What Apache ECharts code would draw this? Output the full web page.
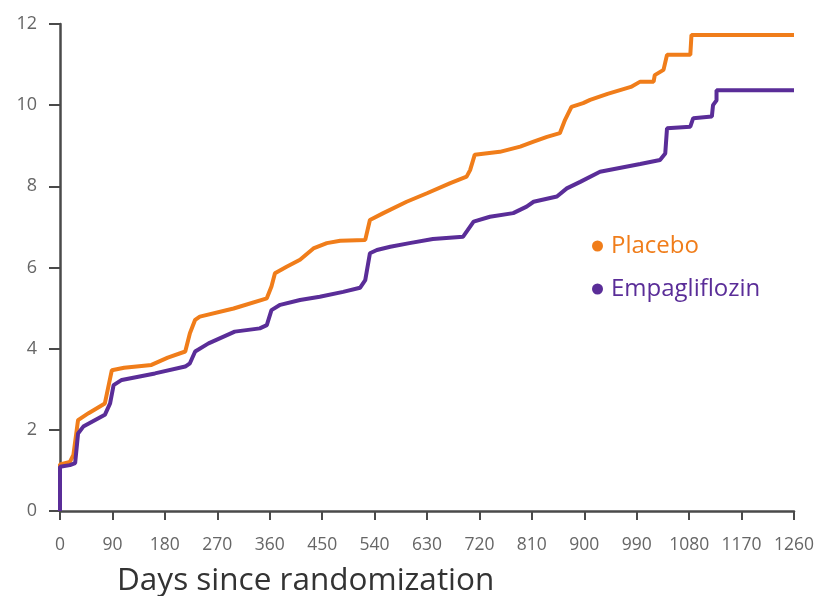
<!DOCTYPE html>
<html>
<head>
<meta charset="utf-8">
<script src="https://cdn.jsdelivr.net/npm/echarts@6/dist/echarts.min.js"></script>
<style>
	html, body { margin: 0; padding: 0; background: #fff; }
	#main { width: 821px; height: 596px; }
</style>
</head>
<body>
<div id="main"></div>
<script>
var xTicks = [0, 90, 180, 270, 360, 450, 540, 630, 720, 810, 900, 990, 1080, 1170, 1260];
var yTicks = [0, 2, 4, 6, 8, 10, 12];
var seriesNames = ['Placebo', 'Empagliflozin'];

// [day, cumulative incidence %]
var placeboCurve = [
	[0, 0], [0, 1.15], [3, 1.18], [17, 1.21], [23, 1.38], [31, 2.24], [49, 2.41], [77, 2.65],
	[89, 3.47], [110, 3.53], [157, 3.60], [185, 3.78], [215, 3.93], [223, 4.38], [232, 4.71],
	[240, 4.79], [298, 4.99], [355, 5.24], [363, 5.53], [369, 5.86], [389, 6.02], [412, 6.19],
	[435, 6.47], [458, 6.60], [481, 6.66], [524, 6.68], [532, 7.17], [555, 7.34], [595, 7.62],
	[630, 7.83], [670, 8.08], [698, 8.24], [704, 8.40], [712, 8.78], [755, 8.85], [790, 8.98],
	[813, 9.10], [836, 9.22], [858, 9.31], [867, 9.64], [878, 9.96], [898, 10.05], [910, 10.13],
	[940, 10.28], [980, 10.45], [996, 10.58], [1019, 10.58], [1021, 10.74], [1036, 10.87],
	[1042, 11.24], [1082, 11.24], [1084, 11.73], [1260, 11.73]
];
var empaCurve = [
	[0, 0], [0, 1.09], [17, 1.13], [26, 1.18], [31, 1.91], [40, 2.08], [77, 2.37], [86, 2.65],
	[92, 3.10], [106, 3.23], [163, 3.39], [215, 3.56], [223, 3.64], [232, 3.93], [255, 4.13],
	[300, 4.42], [343, 4.50], [355, 4.58], [363, 4.95], [378, 5.08], [412, 5.20], [446, 5.28],
	[486, 5.40], [515, 5.50], [524, 5.69], [532, 6.35], [544, 6.43], [567, 6.51], [600, 6.60],
	[640, 6.70], [692, 6.76], [710, 7.13], [738, 7.25], [778, 7.34], [801, 7.50], [813, 7.62],
	[853, 7.75], [870, 7.95], [893, 8.11], [927, 8.36], [996, 8.55], [1030, 8.65], [1039, 8.81],
	[1042, 9.43], [1082, 9.47], [1087, 9.68], [1119, 9.72], [1121, 10.00], [1127, 10.12],
	[1127, 10.37], [1260, 10.37]
];

var colors = ['#f07d1a', '#5a2d98'];
var axisColor = '#4a4a4a';
var fontFamily = '"Open Sans", Lato, sans-serif';

var myChart = echarts.init(document.getElementById('main'), null, { renderer: 'canvas' });
var option = {
	animation: false,
	color: colors,
	title: {
		text: 'Days since randomization',
		left: 112,
		top: 560,
		textStyle: { fontFamily: fontFamily, fontSize: 31.5, fontWeight: 'normal', color: '#333' }
	},
	grid: { left: 60, right: 27, top: 24, bottom: 85 },
	legend: {
		orient: 'vertical',
		left: 587,
		top: 229,
		itemGap: 19,
		itemWidth: 11,
		itemHeight: 11,
		icon: 'circle',
		data: [
			{ name: seriesNames[0], textStyle: { color: colors[0] } },
			{ name: seriesNames[1], textStyle: { color: colors[1] } }
		],
		textStyle: { fontFamily: fontFamily, fontSize: 24, padding: [0, 0, 0, 3] }
	},
	xAxis: {
		type: 'value',
		min: xTicks[0],
		max: xTicks[xTicks.length - 1],
		interval: 90,
		splitLine: { show: false },
		axisLine: { lineStyle: { color: axisColor, width: 2.5 } },
		axisTick: { length: 9, lineStyle: { color: axisColor, width: 2 } },
		axisLabel: {
			margin: 25,
			fontFamily: fontFamily,
			fontSize: 17.5,
			color: '#666',
			formatter: function (v) { return String(v); }
		}
	},
	yAxis: {
		type: 'value',
		min: yTicks[0],
		max: yTicks[yTicks.length - 1],
		interval: 2,
		splitLine: { show: false },
		axisLine: { show: true, lineStyle: { color: axisColor, width: 2.5 } },
		axisTick: { show: true, length: 11, lineStyle: { color: axisColor, width: 2 } },
		axisLabel: { margin: 23, fontFamily: fontFamily, fontSize: 18, color: '#666' }
	},
	series: [
		{
			name: seriesNames[0],
			type: 'line',
			data: placeboCurve,
			showSymbol: false,
			lineStyle: { width: 4, color: colors[0] },
			z: 2
		},
		{
			name: seriesNames[1],
			type: 'line',
			data: empaCurve,
			showSymbol: false,
			lineStyle: { width: 4, color: colors[1] },
			z: 3
		}
	]
};
myChart.setOption(option);
</script>
</body>
</html>
